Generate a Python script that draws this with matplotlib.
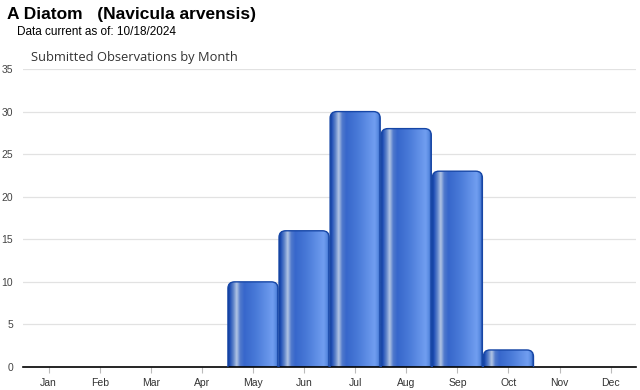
import numpy as np
import matplotlib.pyplot as plt
from matplotlib.colors import LinearSegmentedColormap
from matplotlib.patches import FancyBboxPatch

months = ['Jan', 'Feb', 'Mar', 'Apr', 'May', 'Jun', 'Jul', 'Aug', 'Sep', 'Oct', 'Nov', 'Dec']
counts = [0, 0, 0, 0, 10, 16, 30, 28, 23, 2, 0, 0]
yticks = [0, 5, 10, 15, 20, 25, 30, 35]

plt.rcParams['font.family'] = ['Liberation Sans', 'DejaVu Sans']

# horizontal shading of each bar (dark edge, glossy stripe, lighter right side)
stops = [(0.0, '#0c3896'), (0.04, '#2453b8'), (0.10, '#5a80c8'), (0.17, '#b2c5e4'),
         (0.24, '#5079cc'), (0.32, '#3767cb'), (0.55, '#497ad8'), (0.88, '#719ef0'),
         (0.95, '#5587df'), (1.0, '#0c3896')]
shade = LinearSegmentedColormap.from_list('barshade', stops)
grad = np.linspace(0, 1, 256).reshape(1, -1)

fig = plt.figure(figsize=(6.4, 3.9), dpi=100)
ax = fig.add_axes([0.036, 0.059, 0.958, 0.764])
ax.set_xlim(-0.5, 11.5)
ax.set_ylim(0, 35)

width = 0.98
for i, v in enumerate(counts):
    if v <= 0:
        continue
    x0 = i - width / 2
    box = FancyBboxPatch((x0, -2), width, v + 2,
                         boxstyle='round,pad=0,rounding_size=0.13',
                         mutation_aspect=6.0, transform=ax.transData,
                         facecolor='none', edgecolor='#1646a6', linewidth=1.0,
                         zorder=3)
    ax.add_patch(box)
    im = ax.imshow(grad, cmap=shade, aspect='auto',
                   extent=(x0, x0 + width, 0, v), zorder=2, interpolation='bilinear')
    im.set_clip_path(box)

ax.set_yticks(yticks)
ax.yaxis.grid(True, color='#e2e2e2', linewidth=0.9)
ax.set_axisbelow(True)
ax.tick_params(axis='y', length=0, labelsize=7.5, labelcolor='#444444', pad=7)
ax.set_xticks(range(12))
ax.set_xticklabels(months)
ax.tick_params(axis='x', length=4, color='#bbbbbb', labelsize=7.5, labelcolor='#333333', pad=4)
for s in ['top', 'right', 'left']:
    ax.spines[s].set_visible(False)
ax.spines['bottom'].set_color('black')
ax.spines['bottom'].set_linewidth(1.2)
ax.set_aspect('auto')

fig.text(0.011, 0.962, 'A Diatom   (Navicula arvensis)', fontsize=12.5, fontweight='bold',
         va='center', ha='left')
fig.text(0.027, 0.918, 'Data current as of: 10/18/2024', fontsize=8.5, va='center', ha='left')
fig.text(0.048, 0.853, 'Submitted Observations by Month', fontsize=9.3, color='#333333',
         family=['Open Sans', 'DejaVu Sans'], va='center', ha='left')

fig.savefig('out.png', dpi=100)
